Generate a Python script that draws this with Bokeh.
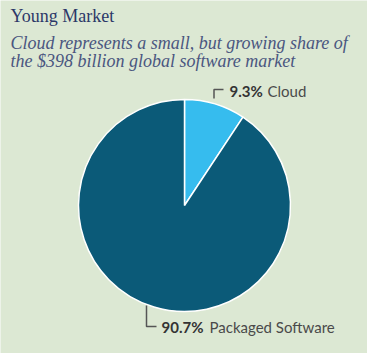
import math
from bokeh.plotting import figure
from bokeh.models import Range1d
from bokeh.core.properties import value
from bokeh.embed import file_html
from bokeh.resources import INLINE

# ---- data ----
categories = ["Cloud", "Packaged Software"]
shares = [9.3, 90.7]
pct_labels = ["9.3%", "90.7%"]
colors = ["#36bcee", "#0b5a78"]
title = "Young Market"
subtitle = ["Cloud represents  a small,  but growing share of",
            "the $398 billion global software  market"]

W, H = 367, 353
BG = "#dce8d3"

p = figure(width=W, height=H, output_backend="svg", toolbar_location=None,
           x_range=Range1d(0, W), y_range=Range1d(0, H), min_border=0)
p.axis.visible = False
p.grid.visible = False
p.outline_line_color = None
p.background_fill_color = BG
p.border_fill_color = BG

def Y(y):
    return H - y

cx, cy, r = 184, Y(205), 106

# wedges: clockwise from 12 o'clock
total = sum(shares)
cum = 0.0
for s, c in zip(shares, colors):
    a0 = math.pi / 2 - 2 * math.pi * (cum + s) / total
    a1 = math.pi / 2 - 2 * math.pi * cum / total
    p.wedge(x=cx, y=cy, radius=r, start_angle=a0, end_angle=a1,
            fill_color=c, line_color="white", line_width=1.5)
    cum += s

# leader lines
lc = "#555555"
p.line([213.5, 213.5, 223], [Y(98), Y(89), Y(89)], line_color=lc, line_width=1.5)
p.line([146, 146, 156], [Y(305), Y(326), Y(326)], line_color=lc, line_width=1.5)

# labels
font = value("Lato")
p.text(x=[229], y=[Y(90)], text=[pct_labels[0]], text_font=font,
       text_font_style="bold", text_font_size="15px", text_color="#333333",
       text_baseline="middle")
p.text(x=[267], y=[Y(90)], text=[categories[0]], text_font=font,
       text_font_size="15px", text_color="#4a4a4a", text_baseline="middle")
p.text(x=[161], y=[Y(326)], text=[pct_labels[1]], text_font=font,
       text_font_style="bold", text_font_size="15px", text_color="#333333",
       text_baseline="middle")
p.text(x=[209], y=[Y(326)], text=[categories[1]], text_font=font,
       text_font_size="15px", text_color="#4a4a4a", text_baseline="middle")

# title / subtitle
serif = value("Liberation Serif")
p.text(x=[10], y=[Y(15)], text=[title], text_font=serif, text_font_size="18px",
       text_color="#2c3868", text_baseline="middle")
p.text(x=[10, 10], y=[Y(42), Y(60)], text=subtitle, text_font=serif,
       text_font_style="italic", text_font_size="18px", text_color="#4a5680",
       text_baseline="middle")

open("out.html", "w").write(file_html(p, INLINE))
